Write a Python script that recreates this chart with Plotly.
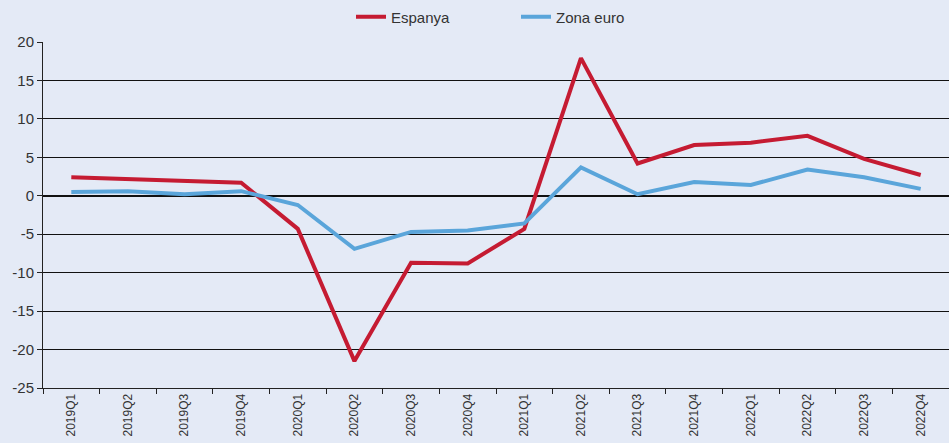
import plotly.graph_objects as go

quarters = ["2019Q1", "2019Q2", "2019Q3", "2019Q4",
            "2020Q1", "2020Q2", "2020Q3", "2020Q4",
            "2021Q1", "2021Q2", "2021Q3", "2021Q4",
            "2022Q1", "2022Q2", "2022Q3", "2022Q4"]
espanya = [2.4, 2.2, 2.0, 1.7, -4.3, -21.5, -8.7, -8.8,
           -4.3, 17.9, 4.2, 6.6, 6.9, 7.8, 4.8, 2.7]
zona_euro = [0.5, 0.6, 0.2, 0.6, -1.2, -6.9, -4.7, -4.5,
             -3.6, 3.7, 0.2, 1.8, 1.4, 3.4, 2.4, 0.9]
y_ticks = [20, 15, 10, 5, 0, -5, -10, -15, -20, -25]
y_labels = ["20", "15", "10", "5", "0", "-5", "-10", "-15", "-20", "-25"]

bg = "#E4EAF6"
font = "Liberation Sans, Arial, sans-serif"

fig = go.Figure()
fig.add_trace(go.Scatter(x=quarters, y=espanya, name="Espanya", mode="lines",
                         line=dict(color="#C51B32", width=4)))
fig.add_trace(go.Scatter(x=quarters, y=zona_euro, name="Zona euro", mode="lines",
                         line=dict(color="#5AA5DA", width=4)))

fig.update_layout(
    width=949, height=443,
    paper_bgcolor=bg, plot_bgcolor=bg,
    margin=dict(l=43, r=0, t=42, b=55),
    font=dict(family=font, color="#333333"),
    showlegend=True,
    legend=dict(orientation="h", x=(351 - 43) / 906, xanchor="left",
                yref="container", y=1 - 17 / 443, yanchor="middle",
                font=dict(size=15, color="#333333"), bgcolor="rgba(0,0,0,0)",
                entrywidth=120, entrywidthmode="pixels"),
)
fig.update_xaxes(
    type="category", range=[-0.5, len(quarters) - 0.5], automargin=False,
    showgrid=False, showline=True, linecolor="#222222", linewidth=1,
    ticks="outside", tickson="boundaries", ticklen=5, tickcolor="#222222",
    tickangle=-90, tickfont=dict(size=12, color="#333333"), zeroline=False,
)
fig.update_yaxes(
    range=[-25, 20], tickvals=y_ticks, ticktext=y_labels, automargin=False,
    showgrid=True, gridcolor="#111111", gridwidth=1,
    showline=True, linecolor="#222222", linewidth=1,
    ticks="outside", ticklen=5, tickcolor="#222222",
    tickfont=dict(size=15, color="#333333"),
    zeroline=True, zerolinecolor="#111111", zerolinewidth=2,
)

fig.write_html(
    "out.html",
    config={"displayModeBar": False},
    post_script="document.body.style.margin='0';document.body.style.overflow='hidden';"
                "document.body.style.background='" + bg + "';",
)
